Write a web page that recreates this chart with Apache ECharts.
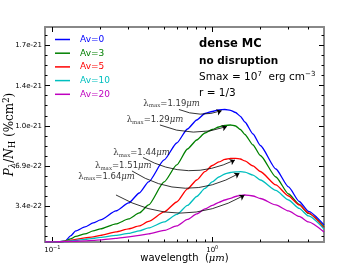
<!DOCTYPE html>
<html><head><meta charset="utf-8">
<script src="https://cdn.jsdelivr.net/npm/echarts@6/dist/echarts.min.js"></script>
<style>html,body{margin:0;padding:0;background:#fff}#c{width:360px;height:270px}</style>
</head><body><div id="c"></div>
<script>
// wavelength in micrometres
const wavelength = [0.09,0.1,0.11,0.12,0.13,0.14,0.16,0.18,0.2,0.25,0.3,0.35,0.4,0.5,0.6,0.7,0.8,0.9,1.0,1.1,1.2,1.3,1.4,1.5,1.6,1.8,2.0,2.5,3.0,3.5,4.0,5.0];
// P_lambda / N_H in units of 1e-21 %cm^2
const av0  = [0.0353,0.0353,0.037,0.0413,0.0869,0.1299,0.1643,0.1988,0.2246,0.3020,0.3708,0.4568,0.5515,0.7408,0.8870,1.0075,1.0849,1.1409,1.1581,1.1727,1.1753,1.1683,1.1494,1.1167,1.0677,0.9645,0.8655,0.6633,0.5085,0.3837,0.2977,0.1815];
const av3  = [0.0353,0.0353,0.037,0.0413,0.0611,0.0826,0.1041,0.1299,0.1471,0.1901,0.2332,0.2848,0.3536,0.5515,0.6978,0.8354,0.9128,0.9731,1.0032,1.0247,1.0376,1.0419,1.0333,1.0032,0.9602,0.8698,0.7795,0.5945,0.4482,0.3579,0.2805,0.1643];
const av5  = [0.0353,0.0353,0.037,0.0396,0.0482,0.0568,0.0697,0.0783,0.0912,0.1213,0.1471,0.1729,0.2117,0.2934,0.3794,0.4913,0.5687,0.6401,0.6934,0.7236,0.7451,0.7537,0.7554,0.7494,0.7322,0.6892,0.6418,0.5257,0.4310,0.3536,0.2848,0.1557];
const av10 = [0.0353,0.0353,0.037,0.0388,0.0439,0.0482,0.0568,0.0654,0.0740,0.0912,0.1084,0.1299,0.1557,0.2074,0.2719,0.3493,0.4267,0.4956,0.5515,0.5945,0.6203,0.6332,0.6376,0.6401,0.6358,0.6100,0.5687,0.4784,0.3966,0.3235,0.2590,0.1471];
const av20 = [0.0353,0.0353,0.037,0.0379,0.0396,0.0413,0.0439,0.0482,0.0525,0.0654,0.0783,0.0912,0.1041,0.1342,0.1729,0.2289,0.2762,0.3192,0.3493,0.3768,0.3966,0.4112,0.4267,0.4353,0.4396,0.4310,0.4095,0.3536,0.3020,0.2547,0.2074,0.1213];
const seriesNames = ['Av=0','Av=3','Av=5','Av=10','Av=20'];
const seriesValues = [av0, av3, av5, av10, av20];
const seriesColors = ['#0000ff','#008000','#ff0000','#00bfbf','#bf00bf'];

// axis ticks
const xTickValues = [0.1, 1];
const xTickLabels = ['10{s|−1}', '10{s|0}'];
const xMinorValues = [0.2,0.3,0.4,0.5,0.6,0.7,0.8,0.9,2,3,4];
const yTickValues = [0.345, 0.69, 1.035, 1.38, 1.725];
const yTickLabels = ['3.4e-22','6.9e-22','1.0e-21','1.4e-21','1.7e-21'];

// lambda_max annotations
const lamMaxLabels = ['1.19','1.29','1.44','1.51','1.64'];
const lamTextAt = [[0.3706,1.2269],[0.2917,1.0849],[0.2405,0.8036],[0.1849,0.6891],[0.1454,0.5999]];
const arrowFrom = [[0.6193,1.1753],[0.471,1.0419],[0.3688,0.7623],[0.3148,0.6461],[0.2501,0.4396]];
const arrowTo   = [[1.145,1.165],[1.236,1.029],[1.386,0.7408],[1.479,0.6263],[1.590,0.437]];
const arrowCurve = [-0.19,-0.19,-0.26,-0.30,-0.28];

const FONT = 'DejaVu Sans';
const xMin = 0.09, xMax = 5, yMin = 0.035, yMax = 1.885;
const yStep = yTickValues[1] - yTickValues[0];
const yMinorValues = [];
for (let k = -4; k <= 24; k++) {
  if (k % 4 === 0) continue;
  const v = yTickValues[0] + k * yStep / 4;
  if (v > yMin && v < yMax) yMinorValues.push(+v.toFixed(5));
}

function xAx(pos, major) {
  const ax = {
    type: 'log', logBase: 10, min: xMin, max: xMax, position: pos, gridIndex: 0,
    axisLine: { show: major, onZero: false, lineStyle: { color: '#888', width: 2 } },
    axisTick: { show: true, inside: true, length: major ? 5 : 2.5, customValues: major ? xTickValues : xMinorValues, lineStyle: { color: '#000', width: 1 } },
    axisLabel: { show: false },
    splitLine: { show: false }, minorTick: { show: false }, minorSplitLine: { show: false }
  };
  if (major && pos === 'bottom') {
    ax.axisLabel = {
      show: true, customValues: xTickValues, margin: 3, color: '#000', fontFamily: FONT, fontSize: 7, lineHeight: 10,
      formatter: function (v) {
        for (let i = 0; i < xTickValues.length; i++) if (Math.abs(v - xTickValues[i]) < 1e-9) return xTickLabels[i];
        return '';
      },
      rich: { s: { fontFamily: FONT, fontSize: 5, verticalAlign: 'top', color: '#000' } }
    };
    ax.name = '{n|wavelength  (}{i|μm}{n|)}';
    ax.nameLocation = 'middle';
    ax.nameGap = 11;
    ax.nameMoveOverlap = false;
    ax.nameTextStyle = {
      rich: {
        n: { fontFamily: FONT, fontSize: 10, color: '#000' },
        i: { fontFamily: 'DejaVu Serif', fontStyle: 'italic', fontSize: 10, color: '#000' }
      }
    };
  }
  return ax;
}
function yAx(pos, major) {
  const ax = {
    type: 'value', min: yMin, max: yMax, position: pos, gridIndex: 0,
    axisLine: { show: major, onZero: false, lineStyle: { color: '#888', width: 2 } },
    axisTick: { show: true, inside: true, length: major ? 5 : 2.5, customValues: major ? yTickValues : yMinorValues, lineStyle: { color: '#000', width: 1 } },
    axisLabel: { show: false },
    splitLine: { show: false }, minorTick: { show: false }, minorSplitLine: { show: false }
  };
  if (major && pos === 'left') {
    ax.axisLabel = {
      show: true, customValues: yTickValues, margin: 3, color: '#000', fontFamily: FONT, fontSize: 7,
      formatter: function (v) {
        for (let i = 0; i < yTickValues.length; i++) if (Math.abs(v - yTickValues[i]) < 1e-6) return yTickLabels[i];
        return '';
      }
    };
    ax.name = '{i|P}{b|λ}{n|/}{i|N}{c|H}{n| (%cm}{p|2}{n|)}';
    ax.nameLocation = 'middle';
    ax.nameRotate = 90;
    ax.nameGap = 28;
    ax.nameMoveOverlap = false;
    ax.nameTextStyle = {
      rich: {
        i: { fontFamily: 'DejaVu Serif', fontStyle: 'italic', fontSize: 12, lineHeight: 15, color: '#000' },
        n: { fontFamily: 'DejaVu Serif', fontSize: 12, lineHeight: 15, color: '#000' },
        b: { fontFamily: 'DejaVu Serif', fontStyle: 'italic', fontSize: 8.5, verticalAlign: 'bottom', color: '#000' },
        c: { fontFamily: 'DejaVu Serif', fontSize: 8.5, verticalAlign: 'bottom', color: '#000' },
        p: { fontFamily: 'DejaVu Serif', fontSize: 8.5, verticalAlign: 'top', color: '#000' }
      }
    };
  }
  return ax;
}

const series = seriesNames.map((n, i) => ({
  name: n, type: 'line', xAxisIndex: 0, yAxisIndex: 0,
  data: wavelength.map((w, j) => [w, seriesValues[i][j]]),
  symbol: 'none', showSymbol: false, smooth: 0.2, smoothMonotone: 'x', color: seriesColors[i],
  lineStyle: { width: 1.3, color: seriesColors[i] }, silent: true, z: 2
}));
series.push({
  type: 'lines', coordinateSystem: 'cartesian2d', xAxisIndex: 0, yAxisIndex: 0, z: 5, silent: true,
  symbol: ['none', 'arrow'], symbolSize: 5,
  lineStyle: { color: '#000', width: 0.8, opacity: 1 },
  data: arrowFrom.map((s, i) => ({ coords: [s, arrowTo[i]], lineStyle: { curveness: arrowCurve[i] } }))
});
series.push({
  type: 'scatter', xAxisIndex: 0, yAxisIndex: 0, symbolSize: 0, silent: true, z: 6,
  data: lamTextAt,
  label: {
    show: true, position: 'right', distance: 0,
    formatter: p => '{l|λ}{s|max}{n|=' + lamMaxLabels[p.dataIndex] + '}{u|μm}',
    rich: {
      l: { fontFamily: 'DejaVu Serif', fontSize: 8.5, lineHeight: 11, color: '#000' },
      s: { fontFamily: 'DejaVu Serif', fontSize: 5.5, verticalAlign: 'bottom', color: '#000' },
      n: { fontFamily: FONT, fontSize: 8.5, lineHeight: 11, color: '#000' },
      u: { fontFamily: 'DejaVu Serif', fontStyle: 'italic', fontSize: 8.5, lineHeight: 11, color: '#000' }
    }
  }
});

const chart = echarts.init(document.getElementById('c'), null, { renderer: 'canvas' });
chart.setOption({
  animation: false,
  backgroundColor: '#fff',
  grid: { left: 45, right: 36, top: 27, bottom: 28, outerBoundsMode: 'none' },
  xAxis: [xAx('bottom', true), xAx('bottom', false), xAx('top', true), xAx('top', false)],
  yAxis: [yAx('left', true), yAx('left', false), yAx('right', true), yAx('right', false)],
  legend: {
    orient: 'vertical', left: 55, top: 34, padding: 0, icon: 'rect', itemWidth: 15, itemHeight: 1.5, itemGap: 2.7,
    textStyle: { fontFamily: FONT, fontSize: 9, lineHeight: 11, padding: [0, 0, 0, 5] },
    data: seriesNames.map((n, i) => ({ name: n, textStyle: { color: seriesColors[i] } })),
    selectedMode: false
  },
  graphic: [
    { type: 'text', x: 199, y: 44.3, silent: true, style: { text: 'dense MC', fontFamily: FONT, fontSize: 11.5, fontWeight: 'bold', fill: '#000', verticalAlign: 'middle' } },
    { type: 'text', x: 199, y: 61.3, silent: true, style: { text: 'no disruption', fontFamily: FONT, fontSize: 10.5, fontWeight: 'bold', fill: '#000', verticalAlign: 'middle' } },
    { type: 'text', x: 199, y: 77.3, silent: true, style: {
      text: '{n|Smax = 10}{p|7}{n|  erg cm}{p|−3}', verticalAlign: 'middle', fill: '#000',
      rich: { n: { fontFamily: FONT, fontSize: 10.5, lineHeight: 14, fill: '#000' }, p: { fontFamily: FONT, fontSize: 7, verticalAlign: 'top', fill: '#000' } } } },
    { type: 'text', x: 199, y: 93, silent: true, style: { text: 'r = 1/3', fontFamily: FONT, fontSize: 10.5, fill: '#000', verticalAlign: 'middle' } }
  ],
  series: series
});
</script>
</body></html>
